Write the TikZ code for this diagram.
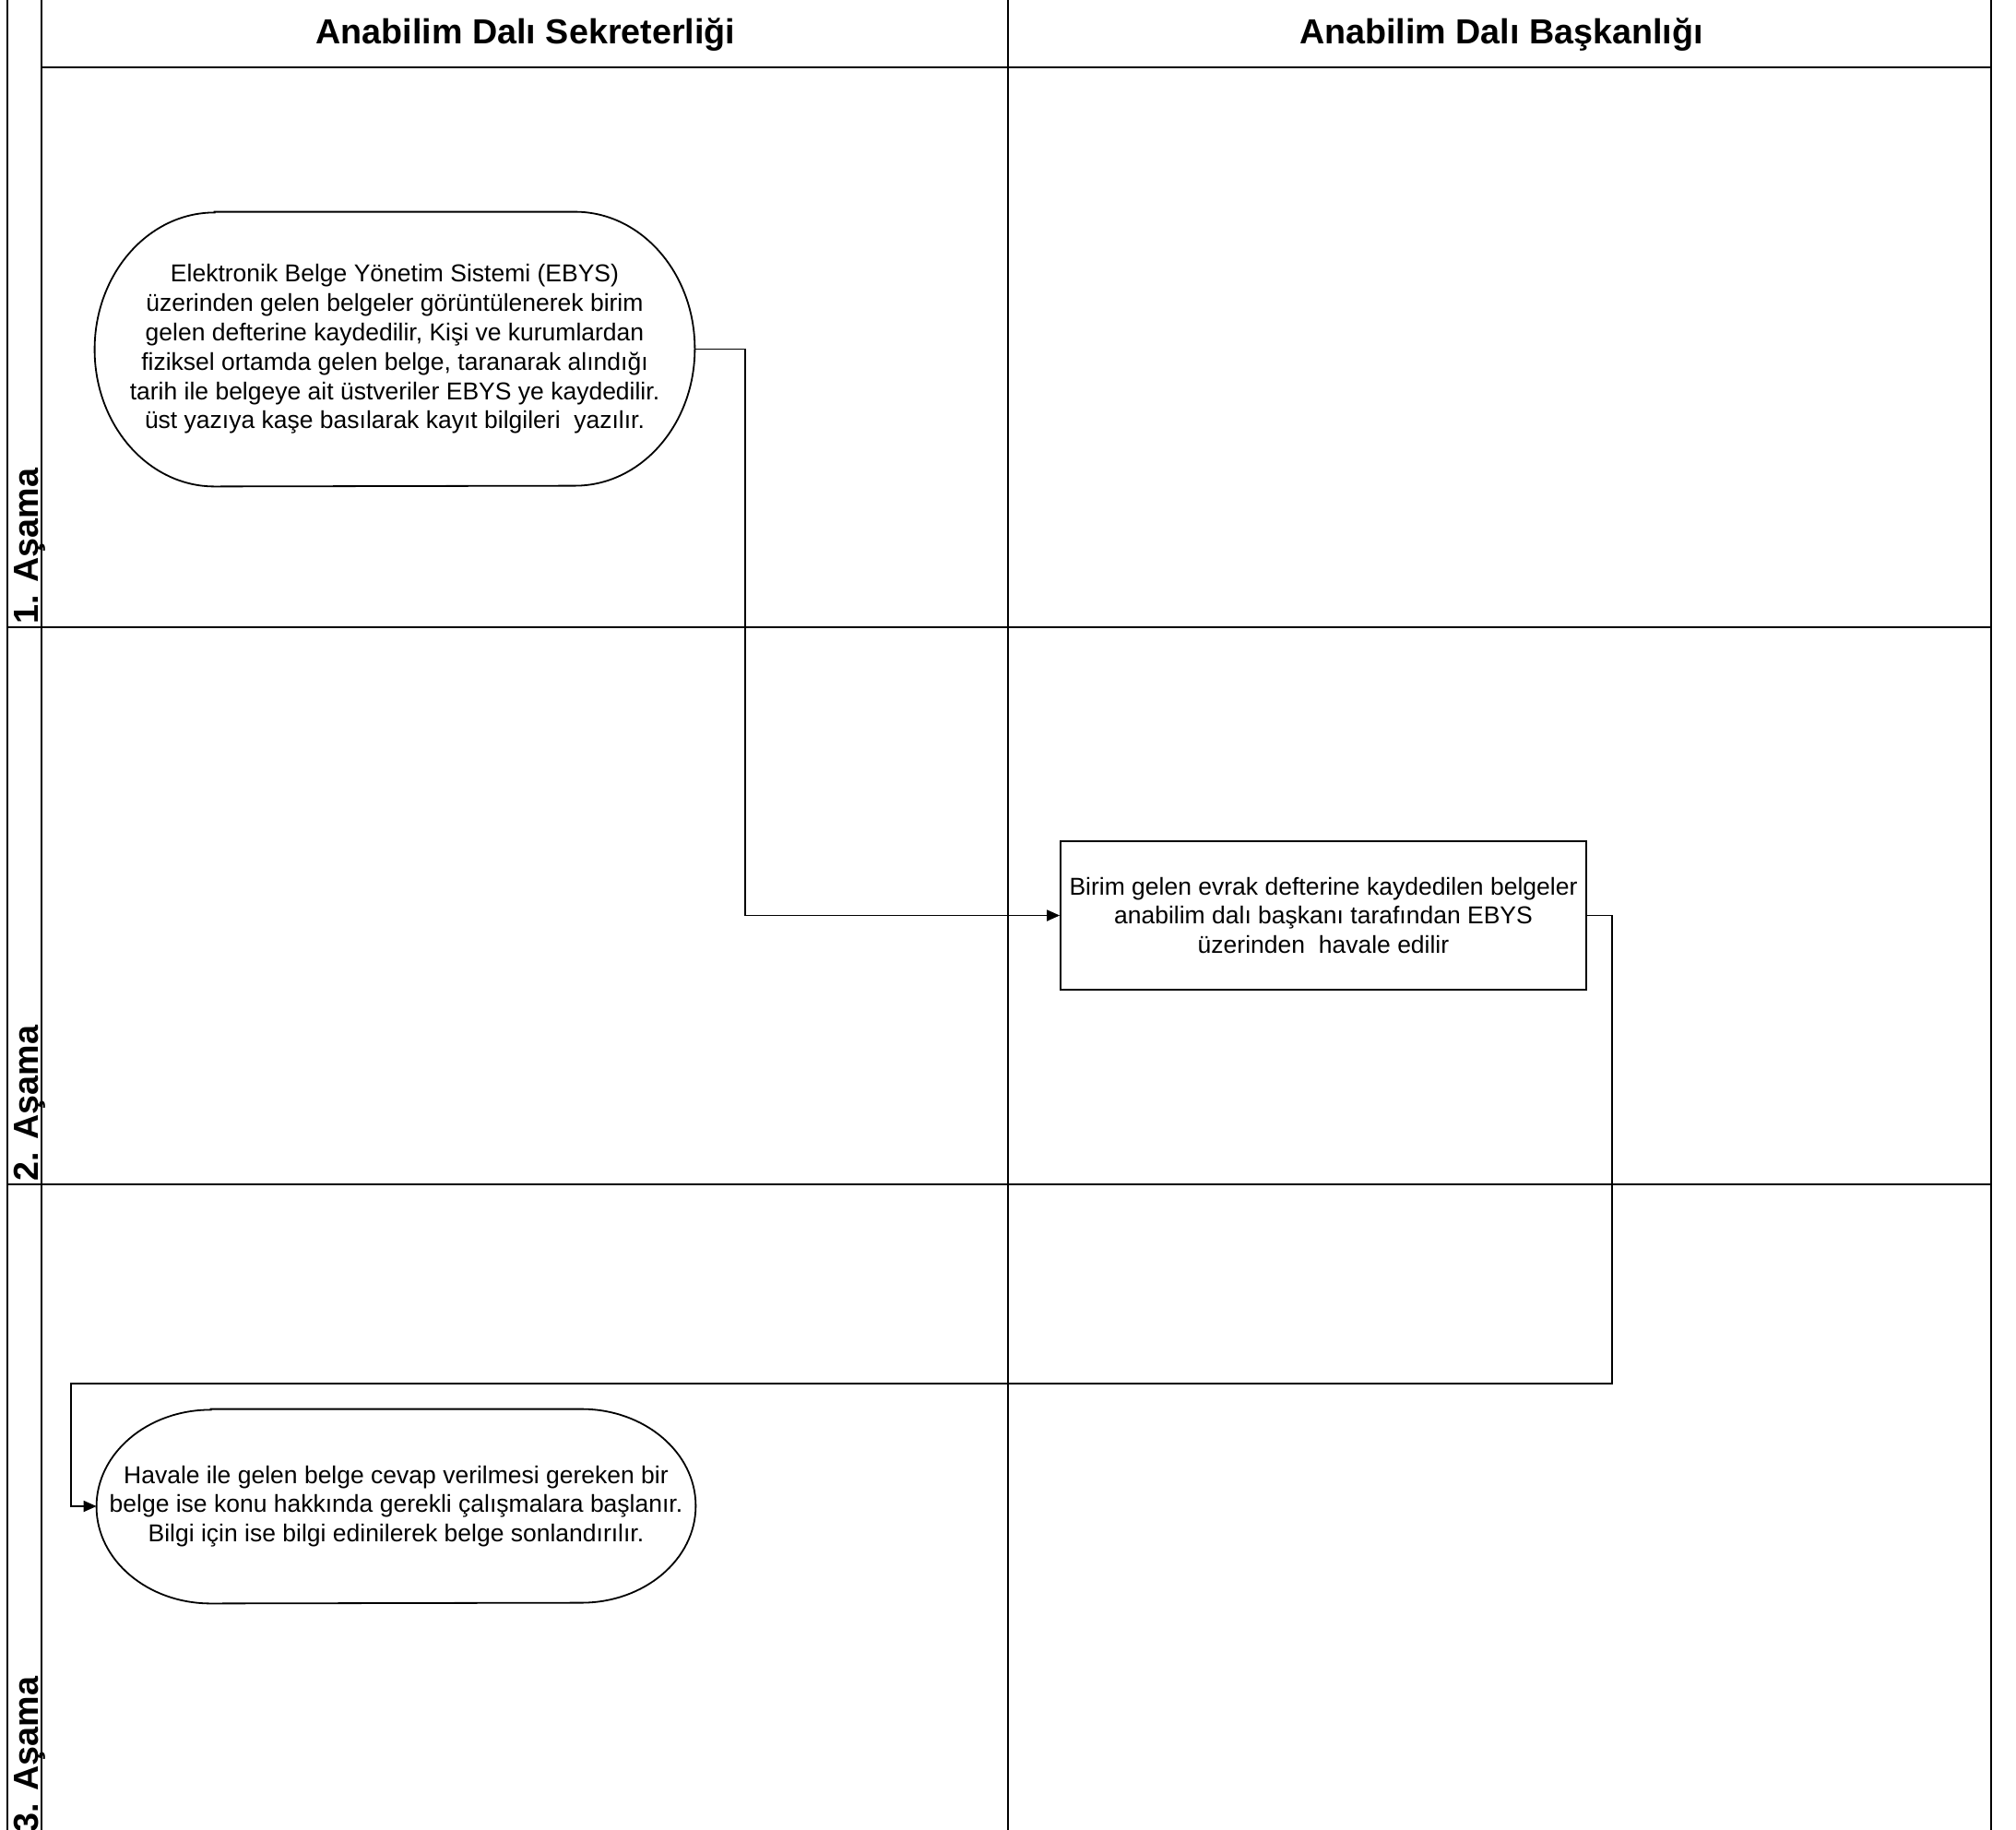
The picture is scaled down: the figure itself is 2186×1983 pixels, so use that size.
\documentclass[tikz,border=0pt]{standalone}
\usepackage{fontspec}
\setmainfont{Liberation Sans}
\usetikzlibrary{arrows.meta}
\tikzset{
  lane/.style={line width=1pt, line cap=rect},
  hdr/.style={font=\bfseries\fontsize{18.85}{22}\selectfont, inner sep=0pt},
  rowlbl/.style={font=\bfseries\fontsize{18.85}{22}\selectfont, inner sep=0pt, rotate=90, anchor=base west},
  txt/.style={font=\fontsize{13.25}{15.9}\selectfont, align=center, inner sep=0pt},
  shapeline/.style={line width=0.9pt},
  conn/.style={line width=0.9pt, -{Triangle[length=7pt,width=6pt]}},
  plain/.style={line width=0.9pt}
}
\begin{document}
\begin{tikzpicture}[x=0.5pt,y=-0.5pt]
\useasboundingbox[fill=white] (0,0) rectangle (2186,1983);
% swimlane frame
\draw[lane] (8,0) -- (8,1983);
\draw[lane] (45,0) -- (45,1983);
\draw[lane] (1093,0) -- (1093,1983);
\draw[lane] (2159,0) -- (2159,1983);
\draw[lane] (45,73) -- (2159,73);
\draw[lane] (8,680) -- (2159,680);
\draw[lane] (8,1284) -- (2159,1284);
% headers
\node[hdr, anchor=base] (h1) at (570,47) {Anabilim Dalı Sekreterliği};
\node[hdr, anchor=base] (h2) at (1628,47) {Anabilim Dalı Başkanlığı};
% row labels
\node[rowlbl] (r1) at (41,677) {1. Aşama};
\node[rowlbl] (r2) at (41,1281) {2. Aşama};
\node[rowlbl] (r3) at (41,1987) {3. Aşama};
% shape 1
\node[txt, minimum width=325pt, minimum height=148.5pt] (n1) at (428,378.5)
 {Elektronik Belge Yönetim Sistemi (EBYS)\\
  üzerinden gelen belgeler görüntülenerek birim\\
  gelen defterine kaydedilir, Kişi ve kurumlardan\\
  fiziksel ortamda gelen belge, taranarak alındığı\\
  tarih ile belgeye ait üstveriler EBYS ye kaydedilir.\\
  üst yazıya kaşe basılarak kayıt bilgileri\ \ yazılır.};
\draw[shapeline] ([xshift=65pt]n1.north west) -- ([xshift=-65pt]n1.north east)
  arc[start angle=90,end angle=-90,x radius=65pt,y radius=74.25pt]
  -- ([xshift=65pt]n1.south west)
  arc[start angle=270,end angle=90,x radius=65pt,y radius=74.25pt] -- cycle;
% shape 2
\node[txt, draw, shapeline, minimum width=285pt, minimum height=80.5pt] (n2) at (1435,992.5)
 {Birim gelen evrak defterine kaydedilen belgeler\\
  anabilim dalı başkanı tarafından EBYS\\
  üzerinden\ \ havale edilir};
% shape 3
\node[txt, minimum width=324.5pt, minimum height=105pt] (n3) at (429.5,1633)
 {Havale ile gelen belge cevap verilmesi gereken bir\\
  belge ise konu hakkında gerekli çalışmalara başlanır.\\
  Bilgi için ise bilgi edinilerek belge sonlandırılır.};
\draw[shapeline] ([xshift=62pt]n3.north west) -- ([xshift=-62pt]n3.north east)
  arc[start angle=90,end angle=-90,x radius=62pt,y radius=52.5pt]
  -- ([xshift=62pt]n3.south west)
  arc[start angle=270,end angle=90,x radius=62pt,y radius=52.5pt] -- cycle;
% connectors
\coordinate (c1) at (808,378.5);
\draw[conn] (n1.east) -- (c1) |- (n2.west);
\coordinate (b1) at (1748,1500);
\coordinate (b2) at (77,1500);
\draw[conn] (n2.east) -| (b1) -- (b2) |- (n3.west);
\end{tikzpicture}
\end{document}
